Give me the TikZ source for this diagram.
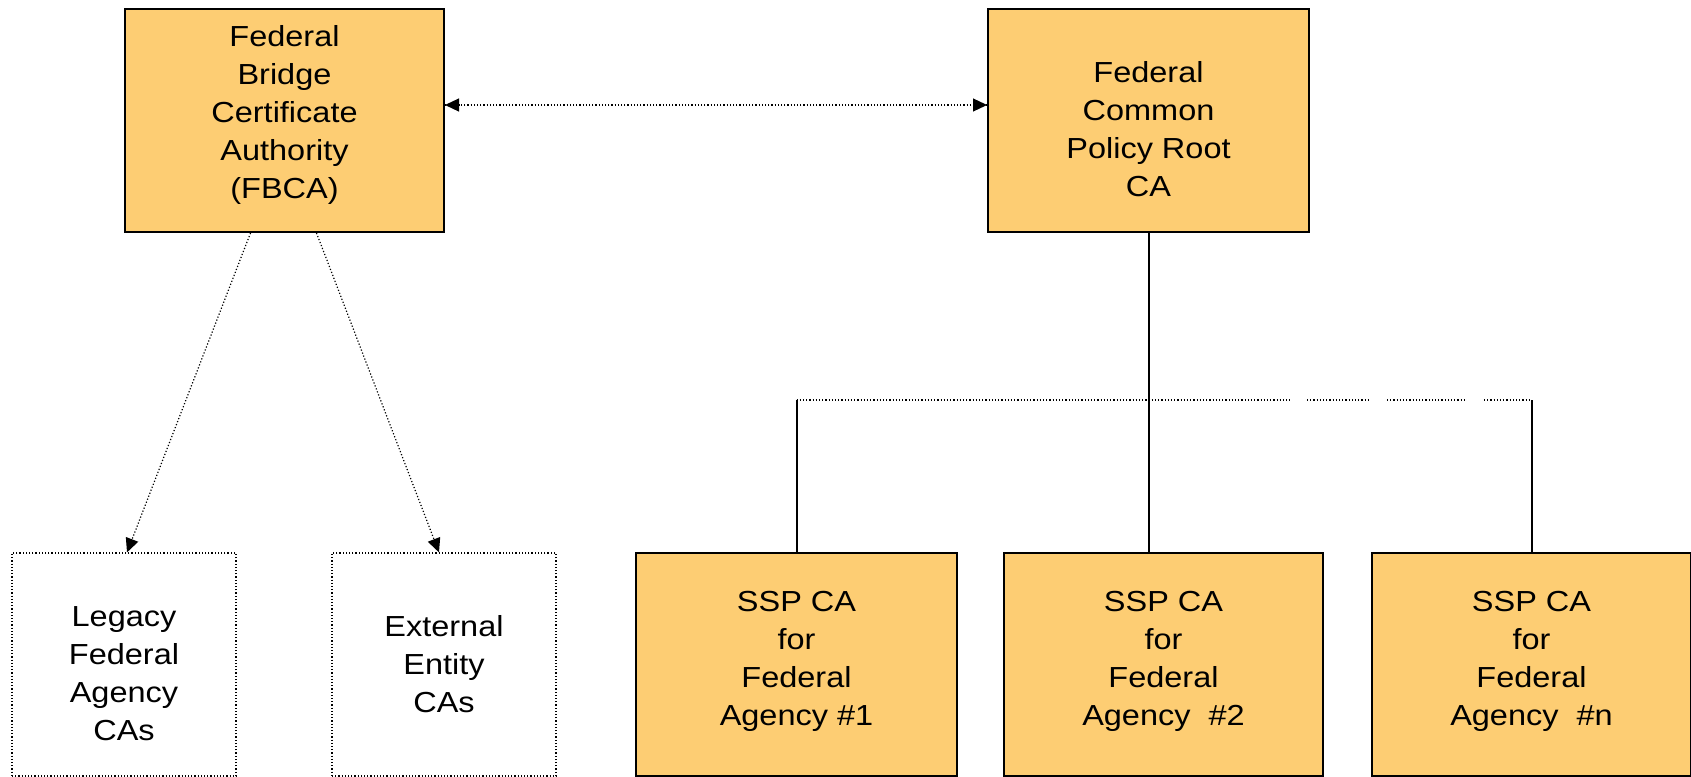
\documentclass[tikz,border=0pt]{standalone}
\usepackage{fontspec}
\setmainfont{Liberation Sans}[FakeStretch=1.12]
\usepackage{xcolor}
\usetikzlibrary{arrows.meta}

\definecolor{caorange}{RGB}{253,205,115}

\tikzset{
  boxtext/.style={align=center,font=\fontsize{14.5}{19}\selectfont},
  every label/.style={boxtext},
  cabox/.style={draw=black,line width=1pt,fill=caorange,minimum height=111.5pt},
  extbox/.style={draw=black,line width=0.6pt,densely dotted,minimum width=112pt,minimum height=111.5pt},
  dotlink/.style={line width=0.6pt,densely dotted},
  tip/.style={-{Triangle[length=7pt,width=6.5pt]}}
}

\begin{document}
\begin{tikzpicture}[x=0.5pt,y=-0.5pt]
  \useasboundingbox (0,0) rectangle (1691,776);

  \node (fbca) at (284.5,120.5) [cabox,minimum width=159.5pt,
    label={[name=fbcatext,yshift=2.7pt]center:Federal\\Bridge\\Certificate\\Authority\\(FBCA)}] {};
  \node (root) at (1148.5,120.5) [cabox,minimum width=160.5pt,
    label={[name=roottext,yshift=-4.3pt]center:Federal\\Common\\Policy Root\\CA}] {};

  \node (legacy) at (124,664.5) [extbox,
    label={[name=legacytext,yshift=-4.8pt]center:Legacy\\Federal\\Agency\\CAs}] {};
  \node (external) at (444,664.5) [extbox,
    label={[name=externaltext]center:External\\Entity\\CAs}] {};

  \node (ssp1) at (796.5,664.5) [cabox,minimum width=160.5pt,
    label={[name=ssp1text,yshift=1.6pt]center:SSP CA\\for\\Federal\\Agency \#1}] {};
  \node (ssp2) at (1163.5,664.5) [cabox,minimum width=159.5pt,
    label={[name=ssp2text,yshift=1.6pt]center:SSP CA\\for\\Federal\\Agency~~\#2}] {};
  \node (sspn) at (1531.5,664.5) [cabox,minimum width=159.5pt,
    label={[name=sspntext,yshift=1.6pt]center:SSP CA\\for\\Federal\\Agency~~\#n}] {};

  \coordinate (busl) at (796.5,400);
  \coordinate (busr) at (1531.5,400);

  % bridge <-> root
  \draw[dotlink,tip] ([yshift=7.75pt]root.west) -- ([yshift=7.75pt]fbca.east);
  \draw[dotlink,tip] ([yshift=7.75pt]fbca.east) -- ([yshift=7.75pt]root.west);

  % bridge to cross-certified CAs
  \draw[dotlink,tip] ([xshift=-17pt]fbca.south) -- ([xshift=1.5pt]legacy.north);
  \draw[dotlink,tip] ([xshift=16pt]fbca.south) -- ([xshift=-2.5pt]external.north);

  % root to SSPs
  \draw[line width=1pt] (root.south) -- (root.south |- ssp2.north);
  \draw[dotlink] (busl) -- (1290,400);
  \draw[dotlink] (1307,400) -- (1370,400);
  \draw[dotlink] (1387,400) -- (1464,400);
  \draw[dotlink] (1484,400) -- (busr);
  \draw[line width=1pt] (busl) -- (ssp1.north);
  \draw[line width=1pt] (busr) -- (sspn.north);
\end{tikzpicture}
\end{document}
